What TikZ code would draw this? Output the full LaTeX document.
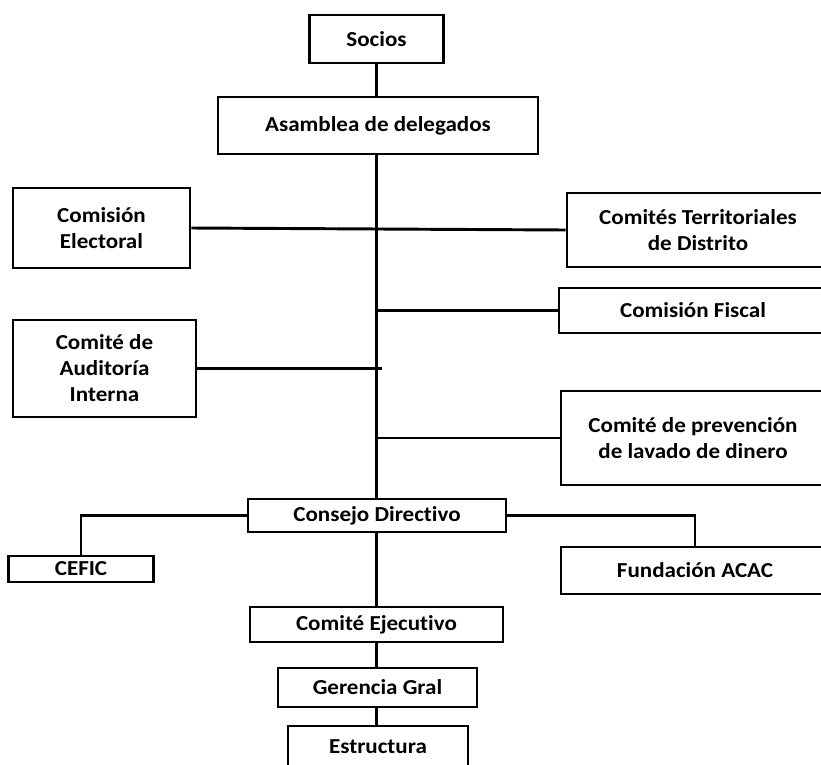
\documentclass[tikz,border=0pt]{standalone}
\usepackage{fontspec}
\setmainfont{Carlito}[FakeStretch=1.08, Ligatures={NoCommon}]
\begin{document}
\begin{tikzpicture}[x=0.75pt,y=-0.75pt,line width=2.2pt,
    org/.style={draw, rectangle, fill=white, inner sep=0pt, align=center, font=\bfseries\fontsize{16}{19.5}\selectfont}]
        \useasboundingbox (0,0) rectangle (821,764);
        \node (socios) [org, minimum width=100pt, minimum height=36pt] at (376.5,39) {Socios};
        \node (asamblea) [org, minimum width=240pt, minimum height=42.75pt] at (378,125.5) {Asamblea de delegados};
        \node (electoral) [org, minimum width=132.75pt, minimum height=60pt] at (101.5,228) {Comisión\\Electoral};
        \node (territorial) [org, minimum width=196.5pt, minimum height=55.5pt] at (698,230) {Comités Territoriales\\de Distrito};
        \node (fiscal) [org, minimum width=201pt, minimum height=33.75pt] at (693,310.5) {Comisión Fiscal};
        \node (auditoria) [org, minimum width=137.25pt, minimum height=72.75pt] at (104.5,368.5) {Comité de\\Auditoría\\Interna};
        \node (prevencion) [org, minimum width=198pt, minimum height=70.5pt] at (693,438) {Comité de prevención\\de lavado de dinero};
        \node (consejo) [org, minimum width=193.5pt, minimum height=24.75pt] at (377,515.5) {Consejo Directivo};
        \node (cefic) [org, minimum width=108.75pt, minimum height=19.5pt] at (81,569) {CEFIC};
        \node (fundacion) [org, minimum width=201pt, minimum height=35.25pt] at (695,570.5) {Fundación ACAC};
        \node (ejecutivo) [org, minimum width=189.75pt, minimum height=26.25pt] at (376.5,624.5) {Comité Ejecutivo};
        \node (gerencia) [org, minimum width=149.25pt, minimum height=29.25pt] at (377.5,687.5) {Gerencia Gral};
        \node (estructura) [org, minimum width=135pt, minimum height=31.5pt] at (378,747) {Estructura};

        \draw (socios) -- (socios |- asamblea.north);
        \draw (asamblea.south -| socios) -- (consejo.north -| socios);
        \draw (electoral.east) -- (territorial.west);
        \draw (fiscal.west) -- (fiscal.west -| socios);
        \draw (auditoria.east) -- ([xshift=4pt]auditoria.east -| socios);
        \draw (prevencion.west) -- (prevencion.west -| socios);
        \draw (consejo.west) -| (cefic.north);
        \draw (consejo.east) -| (fundacion.north);
        \draw (consejo.south -| socios) -- (ejecutivo.north -| socios);
        \draw (ejecutivo.south -| socios) -- (gerencia.north -| socios);
        \draw (gerencia.south -| socios) -- (estructura.north -| socios);
    \end{tikzpicture}
\end{document}
